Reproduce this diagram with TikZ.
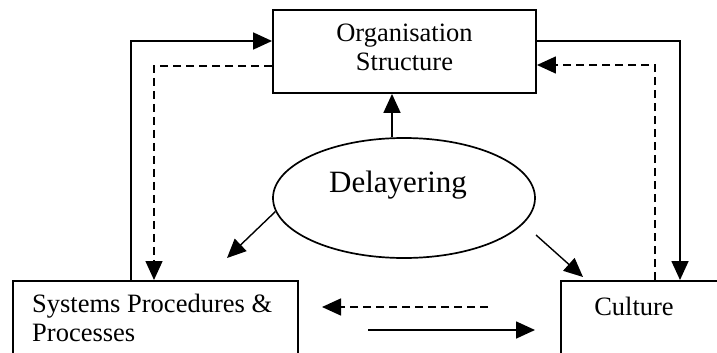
\documentclass[tikz,border=0pt]{standalone}
\usepackage{fontspec}
\setmainfont{Liberation Serif}
\usetikzlibrary{arrows.meta,shapes.geometric}
\begin{document}
\begin{tikzpicture}[x=1pt,y=-1pt,
  box/.style={draw,line width=1.9pt,inner sep=0pt},
  lbl/.style={font=\fontsize{26.5}{29}\selectfont,inner sep=0pt},
  flow/.style={line width=1.7pt,-{Triangle[length=19pt,width=17pt]}},
  back/.style={flow,line width=1.5pt,dash pattern=on 8pt off 5pt},
]
\useasboundingbox (0,0) rectangle (717,353);
\clip (0,0) rectangle (717,353);

% boxes
\node[box,minimum width=263pt,minimum height=83pt] (org) at (404.5,51.5) {};
\node[lbl,align=center] (orgtxt) at (404.5,47) {Organisation\\Structure};

\node[box,minimum width=285pt,minimum height=120pt,anchor=north west] (sys) at (12,280) {};
\node[lbl,align=left,anchor=north west] (systxt) at (32,294) {Systems Procedures \&\\Processes};

\node[box,minimum width=220pt,minimum height=120pt,anchor=north west] (cul) at (560,280) {};
\node[lbl,anchor=base] (cultxt) at (634,315) {Culture};

% central driver
\node[draw,ellipse,line width=1.7pt,minimum width=262pt,minimum height=120pt,inner sep=0pt] (del) at (404,198) {};
\node[font=\fontsize{31}{35}\selectfont,inner sep=0pt] (deltxt) at (398,185) {Delayering};

% free ends of the diagonal and lower connectors
\coordinate (dlEnd) at (227,258);
\coordinate (drStart) at (536,235);
\coordinate (drEnd) at (583,277);
\coordinate (fbStart) at (488,307);
\coordinate (fbEnd) at (322,307);
\coordinate (ffStart) at (368,330);
\coordinate (ffEnd) at (535,330);

% outer loops
\draw[flow] (sys.north -| 131,0) |- (org.west |- 0,41);
\draw[back] (org.west |- 0,66) -| (sys.north -| 154,0);
\draw[flow] (org.east |- 0,41) -| (cul.north -| 680,0);
\draw[back] (cul.north -| 655,0) |- (org.east |- 0,65);

% effects of delayering
\draw[flow] (del.north -| 392,0) -- (org.south -| 392,0);
\draw[flow,line width=1.4pt] (del.186) -- (dlEnd);
\draw[flow,line width=1.4pt] (drStart) -- (drEnd);

% between systems and culture
\draw[back] (fbStart) -- (fbEnd);
\draw[flow] (ffStart) -- (ffEnd);
\end{tikzpicture}
\end{document}
